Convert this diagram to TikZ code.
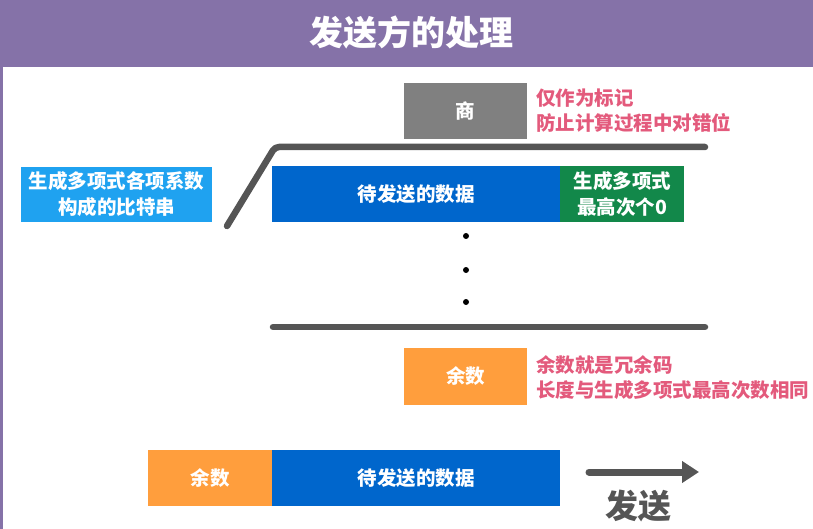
\documentclass[tikz,border=0pt]{standalone}
\usepackage{fontspec}
\setmainfont{Noto Sans CJK SC}
\usetikzlibrary{positioning,arrows.meta}
\definecolor{headbg}{HTML}{8572A8}
\definecolor{skyblue}{HTML}{1FA2F0}
\definecolor{datablue}{HTML}{0066CC}
\definecolor{zerogreen}{HTML}{12884A}
\definecolor{quotgray}{HTML}{808080}
\definecolor{remorange}{HTML}{FF9E3D}
\definecolor{notered}{HTML}{E35A7C}
\definecolor{linegray}{HTML}{555555}

\tikzset{
  bitbox/.style={rectangle, inner sep=0pt, text=white, font=\bfseries\fontsize{19.5}{26}\selectfont, align=center},
  note/.style={anchor=west, inner sep=0pt, text=notered, font=\bfseries\fontsize{19.5}{25}\selectfont, align=left},
  divline/.style={linegray, line width=6.5pt, line cap=round, line join=round}
}

\begin{document}
\begin{tikzpicture}[x=1pt, y=-1pt]
\useasboundingbox (0,0) rectangle (813,529);

% =========================
% HEADER BAR
% =========================
\fill[headbg] (0,0) rectangle (813,67);
\fill[headbg] (0,67) rectangle (3,529);
\node[text=white, font=\bfseries\fontsize{34}{40}\selectfont] (title) at (411,32) {发送方的处理};

% =========================
% DIVISOR (left)
% =========================
\node[bitbox, fill=skyblue, minimum width=191pt, minimum height=55pt] (divisor) at (116.5,194.5)
{生成多项式各项系数\\构成的比特串};

% =========================
% QUOTIENT + NOTE
% =========================
\node[bitbox, fill=quotgray, minimum width=123pt, minimum height=56pt] (quot) at (465.5,111) {商};
\node[note] (quotnote) at (536,110.5) {仅作为标记\\防止计算过程中对错位};

% long division bracket
\coordinate (brfoot) at (227,226);
\coordinate (brtop) at (275,147);
\coordinate (brend) at (705,147);
\draw[divline, rounded corners=4pt] (brfoot) -- (brtop) -- (brend);

% =========================
% DIVIDEND
% =========================
\node[bitbox, fill=datablue, minimum width=288pt, minimum height=56pt] (data) at (416,194) {待发送的数据};
\node[bitbox, fill=zerogreen, minimum width=124pt, minimum height=56pt, right=0pt of data] (zeros)
{生成多项式\\最高次个0};

% dots
\foreach \y in {236,270,302} {
    \fill[black] (466,\y) circle (3pt);
}

% bottom rule
\coordinate (ruleL) at (273,327);
\coordinate (ruleR) at (705,327);
\draw[divline] (ruleL) -- (ruleR);

% =========================
% REMAINDER + NOTE
% =========================
\node[bitbox, fill=remorange, minimum width=123pt, minimum height=57pt] (rem) at (465.5,376.5) {余数};
\node[note] (remnote) at (536,378) {余数就是冗余码\\长度与生成多项式最高次数相同};

% =========================
% FRAME TO SEND
% =========================
\node[bitbox, fill=remorange, minimum width=124pt, minimum height=56pt] (sendrem) at (210,478) {余数};
\node[bitbox, fill=datablue, minimum width=288pt, minimum height=56pt, right=0pt of sendrem] (senddata) {待发送的数据};

\coordinate (sendfrom) at (589,472);
\coordinate (sendto) at (699,472);
\draw[linegray, line width=7pt, line cap=round, -{Triangle[length=17pt,width=21pt]}] (sendfrom) -- (sendto);
\node[text=linegray, font=\bfseries\fontsize{33}{38}\selectfont] (sendlabel) at (638,506) {发送};

\end{tikzpicture}
\end{document}
